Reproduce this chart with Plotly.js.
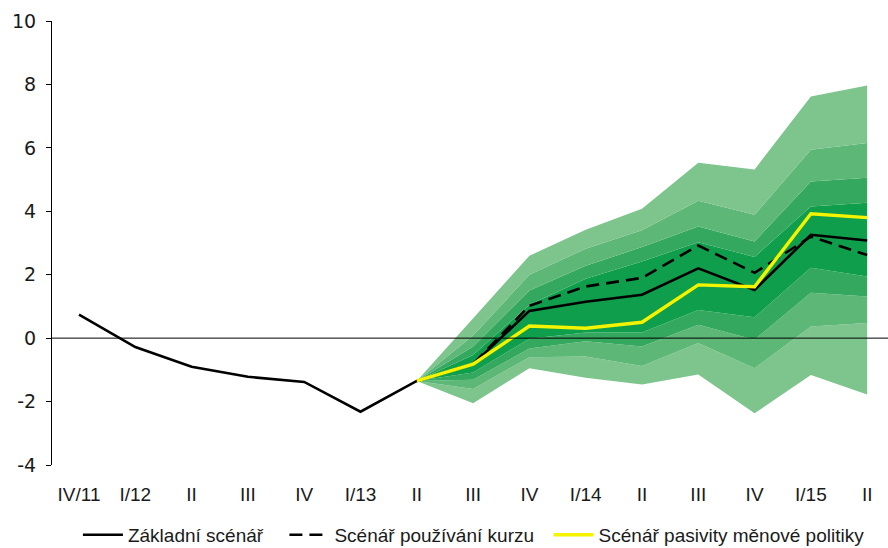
<!DOCTYPE html>
<html>
<head>
<meta charset="utf-8">
<script src="https://cdn.plot.ly/plotly-3.0.1.min.js"></script>
<style>html,body{margin:0;padding:0;background:#fff}#chart{width:888px;height:548px}</style>
</head>
<body>
<div id="chart"></div>
<script>
// Category tick labels (quarters)
const labels = ["IV/11","I/12","II","III","IV","I/13","II","III","IV","I/14","II","III","IV","I/15","II"];
// Y tick values
const yTicks = [-4,-2,0,2,4,6,8,10];
// Baseline scenario (Základní scénář), whole period
const baseline = [0.74,-0.28,-0.90,-1.22,-1.38,-2.32,-1.35,-0.82,0.86,1.15,1.37,2.20,1.52,3.26,3.08];
// Forecast period starts at II/13 (index 6)
const forecastStart = 6;
// Exchange-rate scenario (Scénář používání kurzu)
const kurz = [-1.35,-0.82,1.02,1.63,1.90,2.92,2.06,3.20,2.62];
// Monetary policy passivity scenario (Scénář pasivity měnové politiky)
const pasivita = [-1.35,-0.82,0.38,0.31,0.50,1.68,1.62,3.92,3.80];
// Fan chart band boundaries (upper u1..u4, lower l1..l4)
const u4 = [-1.35,0.62,2.60,3.42,4.08,5.53,5.32,7.62,7.97];
const u3 = [-1.35,0.08,2.00,2.82,3.40,4.33,3.89,5.94,6.15];
const u2 = [-1.35,-0.26,1.50,2.28,2.87,3.52,3.05,4.94,5.06];
const u1 = [-1.35,-0.53,1.05,1.87,2.42,3.02,2.56,4.15,4.27];
const l1 = [-1.35,-1.08,-0.02,0.18,0.18,0.89,0.66,2.22,1.94];
const l2 = [-1.35,-1.31,-0.33,-0.10,-0.26,0.42,-0.05,1.43,1.31];
const l3 = [-1.35,-1.60,-0.60,-0.58,-0.88,-0.15,-0.95,0.37,0.48];
const l4 = [-1.35,-2.05,-0.95,-1.25,-1.46,-1.15,-2.37,-1.16,-1.78];

const xAll = labels.map((_, i) => i);
const xFan = xAll.slice(forecastStart);

const bandColors = ["#7dc48d", "#5db777", "#35a85f", "#0f9e4b"]; // outer -> inner
const FONT = "Liberation Sans, Arial, sans-serif";

function band(y, fillColor) {
  return {
    x: xFan, y: y, type: "scatter", mode: "lines",
    line: {width: 0, color: fillColor || "rgba(0,0,0,0)"},
    fill: fillColor ? "tonexty" : "none",
    fillcolor: fillColor, showlegend: false, hoverinfo: "skip"
  };
}

const traces = [
  band(l4, null),
  band(l3, bandColors[0]),
  band(l2, bandColors[1]),
  band(l1, bandColors[2]),
  band(u1, bandColors[3]),
  band(u2, bandColors[2]),
  band(u3, bandColors[1]),
  band(u4, bandColors[0]),
  {x: xFan, y: kurz, type: "scatter", mode: "lines", name: "Scénář používání kurzu",
   legend: "legend2", line: {color: "#000", width: 2.6, dash: "13px,7px"}},
  {x: xAll, y: baseline, type: "scatter", mode: "lines", name: "Základní scénář",
   legend: "legend", line: {color: "#000", width: 2.6}},
  {x: xFan, y: pasivita, type: "scatter", mode: "lines", name: "Scénář pasivity měnové politiky",
   legend: "legend3", line: {color: "#f4f400", width: 3.4}}
];

const legendCommon = {orientation: "h", xanchor: "left", yref: "container", y: 0.024, yanchor: "middle",
  font: {family: FONT, size: 19, color: "#1a1a1a"}, itemwidth: 40, bgcolor: "rgba(0,0,0,0)"};

const layout = {
  width: 888, height: 548,
  margin: {l: 52, r: 0, t: 21, b: 83},
  paper_bgcolor: "#fff", plot_bgcolor: "#fff",
  font: {family: FONT, size: 16, color: "#1a1a1a"},
  xaxis: {
    range: [-0.48, 14.37], tickvals: xAll, ticktext: labels,
    showgrid: false, zeroline: false, showline: false,
    ticks: "outside", ticklen: 12, tickcolor: "rgba(0,0,0,0)",
    tickfont: {family: FONT, size: 19, color: "#1a1a1a"}
  },
  yaxis: {
    range: [-4, 10], tickvals: yTicks, ticktext: yTicks.map(v => String(v)),
    showgrid: false, zeroline: false,
    showline: true, linecolor: "#000", linewidth: 1,
    ticks: "outside", ticklen: 5, tickcolor: "#000", tickwidth: 1,
    ticklabelstandoff: 6,
    tickfont: {family: "DejaVu Sans, sans-serif", size: 19, color: "#1a1a1a"}
  },
  shapes: [{type: "line", xref: "paper", yref: "y", x0: 0, x1: 1, y0: 0, y1: 0,
            line: {color: "#000", width: 1}, layer: "above"}],
  legend: Object.assign({x: 0.031}, legendCommon),
  legend2: Object.assign({x: 0.278}, legendCommon),
  legend3: Object.assign({x: 0.594}, legendCommon),
  showlegend: true
};

Plotly.newPlot("chart", traces, layout, {displayModeBar: false, staticPlot: true});
</script>
</body>
</html>
